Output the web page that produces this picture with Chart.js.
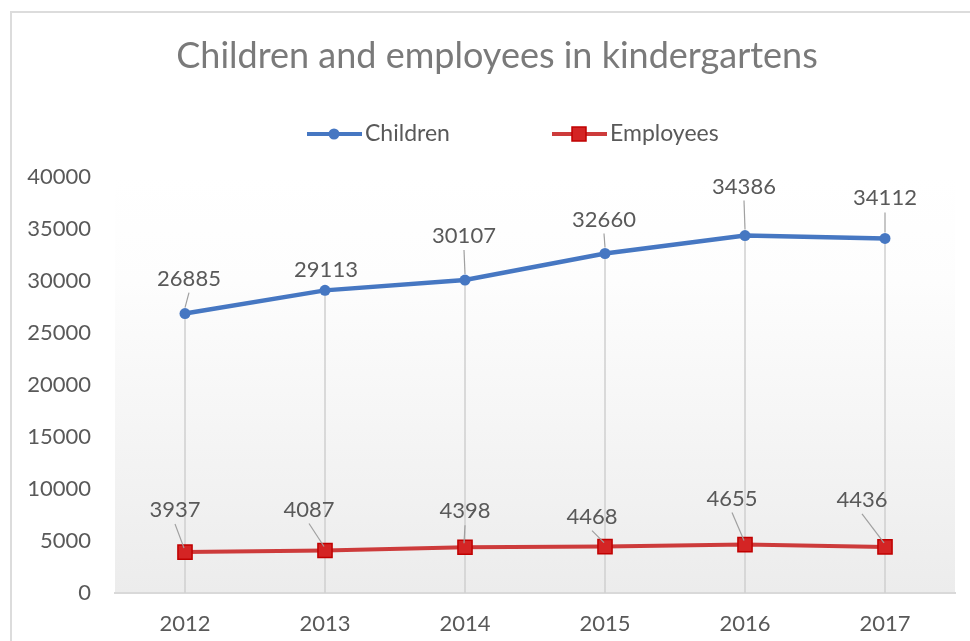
<!DOCTYPE html>
<html><head><meta charset="utf-8">
<script src="https://cdn.jsdelivr.net/npm/chart.js@4.4.1/dist/chart.umd.min.js"></script>
<style>
html,body{margin:0;padding:0;background:#fff;overflow:hidden;width:970px;height:641px}
#frame{position:absolute;left:10px;top:11px;width:1000px;height:700px;border-top:2px solid #dcdcdc;border-left:2px solid #dcdcdc;box-sizing:border-box}
#wrap{position:absolute;left:0;top:0;width:970px;height:641px}
</style></head><body>
<div id="frame"></div>
<div id="wrap"><canvas id="c" width="970" height="641"></canvas></div>
<script>
// ---- data ----
const titleText = 'Children and employees in kindergartens';
const years = ['2012', '2013', '2014', '2015', '2016', '2017'];
const children = [26885, 29113, 30107, 32660, 34386, 34112];
const employees = [3937, 4087, 4398, 4468, 4655, 4436];
const seriesNames = ['Children', 'Employees'];
const yMin = 0, yMax = 40000, yStep = 5000;

// ---- styles ----
const FONT = 'Lato, "Open Sans", sans-serif';
const TEXT = '#595959';
const BLUE = '#4677c2';
const RED_LINE = '#cd3b3b';
const RED_FILL = '#d42424';
const RED_EDGE = '#c00000';
// label offsets (pixels, relative to each point)
const childLabelDX = [4, 1, -1, -1, -1, 0];
const childLabelDY = [-35, -20, -44, -34, -49, -40];
const empLabelDX = [-10, -16, 0, -13, -13, -23];
const empLabelDY = [-42, -41, -36, -30, -46, -47];
const legendX = [307, 552];
const legendY = 134;

const bgPlugin = {
  id: 'bg',
  beforeDraw(chart) {
    const {ctx, chartArea: a} = chart;
    const g = ctx.createLinearGradient(0, a.top, 0, a.bottom);
    g.addColorStop(0, '#ffffff');
    g.addColorStop(0.25, '#fdfdfd');
    g.addColorStop(1, '#ececec');
    ctx.save();
    ctx.fillStyle = g;
    ctx.fillRect(a.left, a.top, a.right - a.left, a.bottom - a.top);
    ctx.restore();
  }
};

const dropLines = {
  id: 'dropLines',
  beforeDatasetsDraw(chart) {
    const {ctx, chartArea: a} = chart;
    const m0 = chart.getDatasetMeta(0).data;
    const m1 = chart.getDatasetMeta(1).data;
    ctx.save();
    ctx.strokeStyle = '#cfcfcf';
    ctx.lineWidth = 1.5;
    m0.forEach((p, i) => {
      const top = Math.min(p.y, m1[i].y);
      ctx.beginPath();
      ctx.moveTo(p.x, top);
      ctx.lineTo(p.x, a.bottom);
      ctx.stroke();
    });
    ctx.restore();
  }
};

const labelsPlugin = {
  id: 'valueLabels',
  afterDatasetsDraw(chart) {
    const {ctx} = chart;
    const sets = [
      {meta: chart.getDatasetMeta(0), vals: children, dx: childLabelDX, dy: childLabelDY},
      {meta: chart.getDatasetMeta(1), vals: employees, dx: empLabelDX, dy: empLabelDY}
    ];
    ctx.save();
    ctx.font = '22px ' + FONT;
    ctx.textAlign = 'center';
    ctx.textBaseline = 'middle';
    sets.forEach((s, si) => {
      s.meta.data.forEach((p, i) => {
        const lx = p.x + s.dx[i], ly = p.y + s.dy[i];
        const sy = ly + 14, ey = p.y - (si === 0 ? 6 : 4);
        if (ey - sy > 4) {
          ctx.strokeStyle = '#a0a0a0';
          ctx.lineWidth = 1.2;
          ctx.beginPath();
          ctx.moveTo(lx, sy);
          ctx.lineTo(p.x - (si === 0 ? 0 : 1), ey);
          ctx.stroke();
        }
        ctx.fillStyle = TEXT;
        ctx.fillText(String(s.vals[i]), lx, ly);
      });
    });
    ctx.restore();
  }
};

const legendPlugin = {
  id: 'customLegend',
  afterDraw(chart) {
    const {ctx} = chart;
    ctx.save();
    chart.data.datasets.forEach((ds, i) => {
      const x = legendX[i], y = legendY;
      ctx.strokeStyle = ds.borderColor;
      ctx.lineWidth = 4;
      ctx.beginPath();
      ctx.moveTo(x, y);
      ctx.lineTo(x + 55, y);
      ctx.stroke();
      const cx = x + 27;
      if (ds.pointStyle === 'rect') {
        ctx.fillStyle = ds.pointBackgroundColor;
        ctx.strokeStyle = ds.pointBorderColor;
        ctx.lineWidth = 1.5;
        ctx.fillRect(cx - 7, y - 7, 14, 14);
        ctx.strokeRect(cx - 7, y - 7, 14, 14);
      } else {
        ctx.fillStyle = ds.pointBackgroundColor;
        ctx.beginPath();
        ctx.arc(cx, y, 5.5, 0, Math.PI * 2);
        ctx.fill();
      }
      ctx.fillStyle = TEXT;
      ctx.font = '23px ' + FONT;
      ctx.textAlign = 'left';
      ctx.textBaseline = 'middle';
      ctx.fillText(ds.label, x + 58, y);
    });
    ctx.restore();
  }
};

new Chart(document.getElementById('c'), {
  type: 'line',
  data: {
    labels: years,
    datasets: [
      {label: seriesNames[0], data: children, borderColor: BLUE, backgroundColor: BLUE,
       borderWidth: 4.5, pointStyle: 'circle', pointRadius: 5.5, pointBackgroundColor: BLUE,
       pointBorderColor: BLUE, pointBorderWidth: 0, tension: 0},
      {label: seriesNames[1], data: employees, borderColor: RED_LINE, backgroundColor: RED_FILL,
       borderWidth: 4, pointStyle: 'rect', pointRadius: 10, pointBackgroundColor: RED_FILL,
       pointBorderColor: RED_EDGE, pointBorderWidth: 1.5, tension: 0}
    ]
  },
  options: {
    responsive: false,
    animation: false,
    devicePixelRatio: 1,
    layout: {padding: {left: 24, right: 0, top: 0, bottom: 0}},
    plugins: {
      legend: {display: false},
      tooltip: {enabled: false},
      title: {
        display: true, text: titleText, color: '#7a7a7a',
        font: {family: FONT, size: 36, weight: 'normal', lineHeight: 1.2},
        padding: {top: 35, bottom: 99}
      }
    },
    scales: {
      x: {
        offset: true,
        grid: {display: false, drawTicks: false},
        border: {display: true, color: '#d9d9d9', width: 2},
        ticks: {color: TEXT, font: {family: FONT, size: 22}, padding: 18, maxRotation: 0},
        afterFit(s) { s.height = 48; }
      },
      y: {
        min: yMin, max: yMax,
        grid: {display: false, drawTicks: false},
        border: {display: false},
        ticks: {stepSize: yStep, color: TEXT, font: {family: FONT, size: 22}, padding: 24,
                callback: v => String(v)},
        afterFit(s) { s.width = 91; }
      },
      yRight: {
        position: 'right', display: true, min: yMin, max: yMax,
        grid: {display: false, drawTicks: false},
        border: {display: false},
        ticks: {display: false},
        afterFit(s) { s.width = 15; }
      }
    }
  },
  plugins: [bgPlugin, dropLines, labelsPlugin, legendPlugin]
});
</script>
</body></html>
